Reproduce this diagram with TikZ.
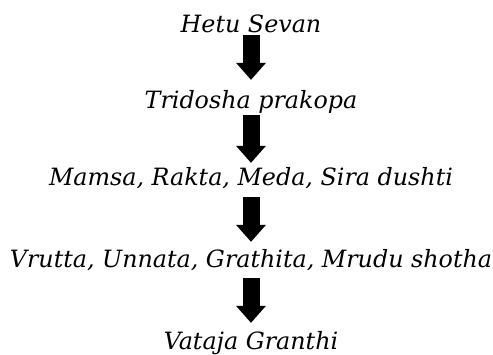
\documentclass[tikz,border=0pt]{standalone}
\usepackage{fontspec}
\setmainfont{DejaVu Serif}
\usetikzlibrary{arrows.meta}
\begin{document}
\begin{tikzpicture}[x=1pt,y=-1pt,
  stage/.style={font=\fontsize{23.8}{28}\selectfont\itshape, inner sep=0pt,
    anchor=base, text height=18pt, text depth=0pt},
  flow/.style={line width=17pt,
    -{Triangle[length=17pt,width=30pt,line width=0pt]}}]
\useasboundingbox (0,0) rectangle (493,354);
% stages, top to bottom
\node[stage] (hetu)   at (251,32)  {Hetu Sevan};
\node[stage] (dosha)  at (251,108) {Tridosha prakopa};
\node[stage] (dushti) at (251,185) {Mamsa, Rakta, Meda, Sira dushti};
\node[stage] (shotha) at (251,267) {Vrutta, Unnata, Grathita, Mrudu shotha};
\node[stage] (granthi) at (251,349) {Vataja Granthi};
% block arrows between stages
\draw[flow, shorten <=3pt,  shorten >=10pt] (hetu.south)   -- (dosha.north);
\draw[flow, shorten <=7pt,  shorten >=4pt]  (dosha.south)  -- (dushti.north);
\draw[flow, shorten <=12pt, shorten >=7pt]  (dushti.south) -- (shotha.north);
\draw[flow, shorten <=11pt, shorten >=8pt]  (shotha.south) -- (granthi.north);
\end{tikzpicture}
\end{document}
